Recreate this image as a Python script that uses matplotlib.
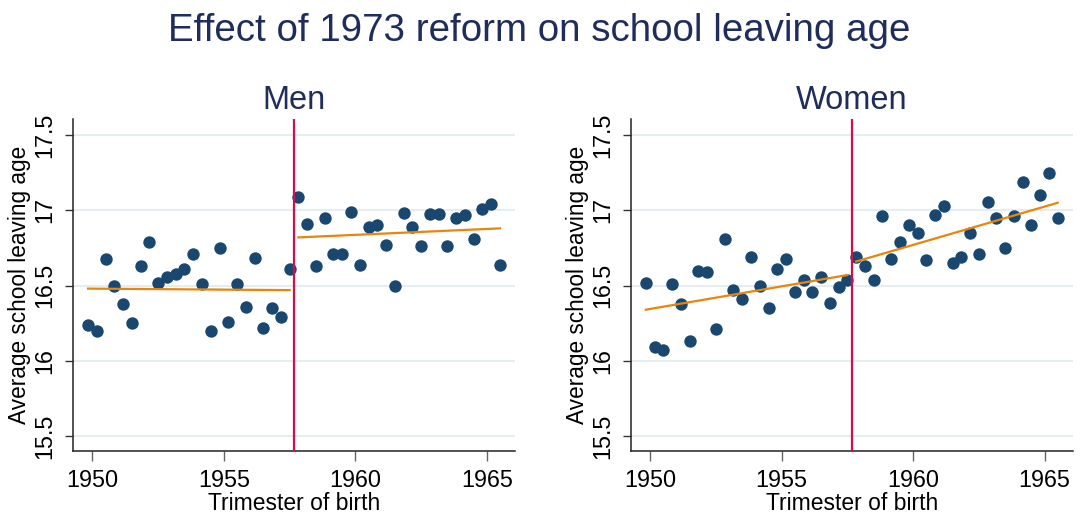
import numpy as np
import matplotlib.pyplot as plt

plt.rcParams["font.family"] = ["Liberation Sans", "DejaVu Sans"]

# trimester of birth (centre of each 4-month period)
trimesters = 1949 + 5 / 6 + np.arange(48) / 3
reform = 1957 + 2 / 3

men = [16.24, 16.20, 16.675, 16.50, 16.38, 16.25, 16.63, 16.79, 16.52, 16.56,
       16.58, 16.61, 16.71, 16.51, 16.20, 16.75, 16.26, 16.51, 16.36, 16.68,
       16.22, 16.35, 16.29, 16.61,
       17.09, 16.91, 16.63, 16.95, 16.71, 16.71, 16.99, 16.64, 16.89, 16.90,
       16.77, 16.50, 16.98, 16.89, 16.76, 16.975, 16.975, 16.76, 16.95, 16.97,
       16.81, 17.01, 17.04, 16.64]

women = [16.52, 16.09, 16.07, 16.51, 16.38, 16.13, 16.60, 16.59, 16.21, 16.81,
         16.47, 16.41, 16.69, 16.50, 16.35, 16.61, 16.675, 16.46, 16.54, 16.46,
         16.555, 16.385, 16.49, 16.54,
         16.69, 16.63, 16.54, 16.96, 16.675, 16.79, 16.90, 16.85, 16.67, 16.97,
         17.03, 16.65, 16.69, 16.85, 16.71, 17.055, 16.95, 16.75, 16.96, 17.19,
         16.90, 17.10, 17.25, 16.95]

# fitted lines (start, end) before and after the reform
men_fit_before = [16.48, 16.47]
men_fit_after = [16.82, 16.88]
women_fit_before = [16.34, 16.57]
women_fit_after = [16.66, 17.05]

navy = "#1a476f"
orange = "#e8850c"
red = "#d0104c"
title_col = "#1e2d5a"

fig = plt.figure(figsize=(10.84, 5.17), dpi=100)
fig.text(0.497, 0.9207, "Effect of 1973 reform on school leaving age",
         ha="center", va="baseline", fontsize=27.7, color=title_col)

panels = [
    ("Men", men, men_fit_before, men_fit_after, 0.0676),
    ("Women", women, women_fit_before, women_fit_after, 0.5821),
]

n_before = 24
for name, vals, fb, fa, x0 in panels:
    ax = fig.add_axes([x0, 0.1271, 0.4075, 0.6427])
    ax.set_xlim(1949.27, 1966.07)
    ax.set_ylim(15.4, 17.606)
    ax.set_yticks([15.5, 16, 16.5, 17, 17.5])
    ax.set_yticklabels(["15.5", "16", "16.5", "17", "17.5"])
    ax.set_xticks([1950, 1955, 1960, 1965])
    ax.grid(axis="y", color="#e6edf1", lw=1.5)
    ax.set_axisbelow(True)
    for s in ["top", "right"]:
        ax.spines[s].set_visible(False)
    for s in ["left", "bottom"]:
        ax.spines[s].set_linewidth(1.1)
        ax.spines[s].set_color("#222222")
    ax.tick_params(axis="x", length=7, width=1, color="#666666",
                   labelsize=16.8, pad=6)
    ax.tick_params(axis="y", length=6, width=1, color="#333333",
                   labelsize=16.8, pad=6)
    for lab in ax.get_yticklabels():
        lab.set_rotation(90)
        lab.set_va("center")

    ax.scatter(trimesters, vals, s=80, color=navy, zorder=3, linewidths=0)
    ax.plot([trimesters[0], trimesters[n_before - 1]], fb, color=orange,
            lw=1.6, zorder=4)
    ax.plot([trimesters[n_before], trimesters[-1]], fa, color=orange,
            lw=1.6, zorder=4)
    ax.axvline(reform, color=red, lw=1.6, zorder=5)

    ax.set_xlabel("Trimester of birth", fontsize=16.5, labelpad=0)
    ax.set_ylabel("Average school leaving age", fontsize=16.3, labelpad=2)
    fig.text(x0 + 0.4075 / 2, 0.7886, name, ha="center", va="baseline",
             fontsize=23.5, color=title_col)

plt.savefig("out.png", dpi=100)
